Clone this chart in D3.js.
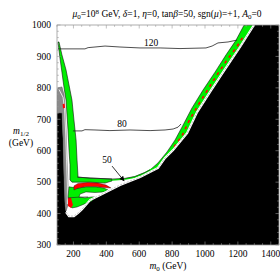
<!DOCTYPE html>
<html>
<head>
<meta charset="utf-8">
<script src="https://cdn.jsdelivr.net/npm/d3@7"></script>
<style>
  body { margin: 0; background: #fff; }
  svg text { font-family: "Liberation Serif", "DejaVu Serif", serif; fill: #000; }
</style>
</head>
<body>
<svg width="280" height="280"></svg>
<script>
// axes
const xDomain = [100, 1450];
const yDomain = [300, 1000];
const xTicks = [200, 400, 600, 800, 1000, 1200, 1400];
const yTicks = [300, 400, 500, 600, 700, 800, 900, 1000];

// regions, [m0, m1/2]
const blackRegion = [[100,300],[100,720],[130,720],[137,634],[143,507],[149,427],[155,405],[173,392],[203,392],[228,402],[252,414],[301,443],[362,459],[483,491],[605,516],[714,545],[757,577],[806,602],[891,656],[952,723],[1031,787],[1110,850],[1213,930],[1298,1000],[1450,1000],[1450,300]];
const boundaryEdge = [[155,405],[173,392],[203,392],[228,402],[252,414],[301,443],[362,459],[483,491],[605,516],[714,545],[757,577],[806,602],[891,656],[952,723],[1031,787],[1110,850],[1213,930],[1298,1000]];
const greenStripEdge = [[1238,1000],[1189,952],[1128,905],[1061,850],[988,793],[921,736],[860,675],[818,634],[769,596],[714,561],[666,539],[605,520]];
const greenBand = [[106,946],[118,895],[130,850],[143,800],[155,761],[161,714],[167,666],[173,602],[179,555],[179,507],[191,500],[301,500],[392,497],[435,504],[435,510],[301,513],[228,516],[222,570],[216,634],[203,698],[191,761],[173,809],[155,857],[130,905],[112,946]];
const greenThin = [[435,507],[514,510],[574,516],[635,529],[678,542]];
const greenBlob = [[173,485],[228,481],[276,485],[337,485],[386,481],[410,475],[386,469],[331,467],[276,469],[240,462],[234,453],[270,450],[313,453],[331,453],[313,440],[264,430],[222,421],[191,418],[173,427],[167,453]];
const redCrescent = [[203,488],[228,496],[289,499],[350,497],[398,491],[429,481],[386,483],[337,486],[276,486],[228,481],[203,475]];
const redLow = [[167,450],[185,450],[197,427],[185,418],[167,424]];
const redTop = [[134,748],[146,750],[149,737],[137,734]];
const redDashes = [[812,612],[860,647],[903,695],[958,745],[1019,796],[1073,841],[1134,889],[1189,927],[1238,968]];
const grayBand = [[106,800],[130,803],[143,777],[149,730],[155,666],[161,570],[167,491],[167,427],[155,408],[149,427],[143,507],[137,634],[130,720],[100,720],[100,787]];
const grayInner = [[112,795],[137,770],[146,730],[152,666],[158,570],[163,491],[163,430]];
const sliverTop = [[222,516],[301,513],[435,510],[514,512],[574,518],[635,531],[666,539]];
const blobLine = [[167,450],[228,452],[289,453]];

// contours of constant value
const contour120 = [[106,924],[179,924],[270,924],[289,928],[331,930],[392,933],[483,930],[605,927],[727,927],[848,925],[1006,927],[1043,933],[1079,943],[1140,946],[1195,952]];
const contour80 = [[197,663],[252,663],[270,667],[331,666],[422,664],[544,666],[666,664],[757,666],[806,669],[836,675],[854,685]];
const contourLabels = [
  {text: "120", m0: 672, m12: 934},
  {text: "80", m0: 495, m12: 675},
  {text: "50", m0: 404, m12: 561}
];
const arrow50 = [[435,551],[508,504]];

const svg = d3.select("svg");
const x = d3.scaleLinear().domain(xDomain).range([57, 279]);
const y = d3.scaleLinear().domain(yDomain).range([245, 25]);
const line = d3.line().x(d => x(d[0])).y(d => y(d[1]));
const area = pts => line(pts) + "Z";

svg.append("defs").append("clipPath").attr("id", "clip")
  .append("rect").attr("x", 57).attr("y", 25).attr("width", 222).attr("height", 220);
svg.select("defs").append("marker")
  .attr("id", "head").attr("viewBox", "0 0 10 10").attr("refX", 9).attr("refY", 5)
  .attr("markerWidth", 7).attr("markerHeight", 5).attr("markerUnits", "userSpaceOnUse")
  .attr("orient", "auto")
  .append("path").attr("d", "M0,0L10,5L0,10Z").attr("fill", "#000");

const g = svg.append("g").attr("clip-path", "url(#clip)");

// green strip along the boundary: its upper edge, then back up the black edge
g.append("path").attr("d", area(greenStripEdge.concat(boundaryEdge.slice(8))))
  .attr("fill", "#00ee00").attr("stroke", "#111").attr("stroke-width", 0.6);

g.append("path").attr("d", area(blackRegion)).attr("fill", "#000");

g.append("path").attr("d", area(grayBand)).attr("fill", "#8a8a8a").attr("stroke", "#555").attr("stroke-width", 0.5);
g.append("path").attr("d", line(grayInner)).attr("fill", "none").attr("stroke", "#fff").attr("stroke-width", 0.8);
g.append("path").attr("d", area(redTop)).attr("fill", "#f00");

g.append("path").attr("d", area(greenBand)).attr("fill", "#00ee00").attr("stroke", "#111").attr("stroke-width", 0.6);
g.append("path").attr("d", line(greenThin)).attr("fill", "none").attr("stroke", "#00ee00").attr("stroke-width", 1.6);
g.append("path").attr("d", line(sliverTop)).attr("fill", "none").attr("stroke", "#222").attr("stroke-width", 0.7);
g.append("path").attr("d", area(greenBlob)).attr("fill", "#00ee00").attr("stroke", "#111").attr("stroke-width", 0.5);
g.append("path").attr("d", area(redCrescent)).attr("fill", "#f00").attr("stroke", "#111").attr("stroke-width", 0.4);
g.append("path").attr("d", area(redLow)).attr("fill", "#f00");
g.append("path").attr("d", line(blobLine)).attr("fill", "none").attr("stroke", "#222").attr("stroke-width", 0.6);

g.append("path").attr("d", line(redDashes)).attr("fill", "none").attr("stroke", "#f00")
  .attr("stroke-width", 1.6).attr("stroke-dasharray", "3,4");

// white wiggly edge of the black region
g.append("path").attr("d", line(boundaryEdge)).attr("fill", "none").attr("stroke", "#fff").attr("stroke-width", 2.2);
g.append("path").attr("d", line(boundaryEdge)).attr("fill", "none").attr("stroke", "#999")
  .attr("stroke-width", 0.6).attr("stroke-dasharray", "2,1.5");

[contour120, contour80].forEach(c => {
  g.append("path").attr("d", line(c)).attr("fill", "none").attr("stroke", "#222").attr("stroke-width", 0.8);
});
g.append("path").attr("d", line(arrow50)).attr("fill", "none").attr("stroke", "#000")
  .attr("stroke-width", 0.8).attr("marker-end", "url(#head)");
g.selectAll(".clab").data(contourLabels).enter().append("text")
  .attr("x", d => x(d.m0)).attr("y", d => y(d.m12))
  .attr("text-anchor", "middle").attr("font-size", 9.5).text(d => d.text);

// frame and ticks
const frame = svg.append("g").attr("stroke", "#999").attr("fill", "none");
frame.append("rect").attr("x", 57).attr("y", 25).attr("width", 222).attr("height", 220).attr("stroke-width", 0.8);
const xMinor = d3.range(100, 1451, 50);
const yMinor = d3.range(300, 1001, 20);
xMinor.forEach(v => {
  const len = xTicks.includes(v) ? 3.5 : 1.8;
  frame.append("line").attr("x1", x(v)).attr("x2", x(v)).attr("y1", 245).attr("y2", 245 - len).attr("stroke-width", 0.6);
  frame.append("line").attr("x1", x(v)).attr("x2", x(v)).attr("y1", 25).attr("y2", 25 + len).attr("stroke-width", 0.6);
});
yMinor.forEach(v => {
  const len = yTicks.includes(v) ? 3.5 : 1.8;
  frame.append("line").attr("x1", 57).attr("x2", 57 + len).attr("y1", y(v)).attr("y2", y(v)).attr("stroke-width", 0.6);
  frame.append("line").attr("x1", 279).attr("x2", 279 - len).attr("y1", y(v)).attr("y2", y(v)).attr("stroke-width", 0.6);
});

svg.selectAll(".xt").data(xTicks).enter().append("text")
  .attr("x", d => x(d)).attr("y", 257).attr("text-anchor", "middle").attr("font-size", 9.5).text(d => d);
svg.selectAll(".yt").data(yTicks).enter().append("text")
  .attr("x", 51).attr("y", d => y(d) + 3.3).attr("text-anchor", "end").attr("font-size", 9.5).text(d => d);

// axis labels
const xl = svg.append("text").attr("x", 168).attr("y", 269).attr("text-anchor", "middle").attr("font-size", 9.5);
xl.append("tspan").attr("font-style", "italic").text("m");
xl.append("tspan").attr("font-size", 7).attr("dy", 2).text("0");
xl.append("tspan").attr("dy", -2).text(" (GeV)");

const yl = svg.append("text").attr("x", 21).attr("y", 134).attr("text-anchor", "middle").attr("font-size", 9.5);
yl.append("tspan").attr("font-style", "italic").text("m");
yl.append("tspan").attr("font-size", 7).attr("dy", 2).text("1/2");
svg.append("text").attr("x", 21).attr("y", 146).attr("text-anchor", "middle").attr("font-size", 9.5).text("(GeV)");

// title
const t = svg.append("text").attr("x", 167).attr("y", 17).attr("text-anchor", "middle").attr("font-size", 9.5);
const parts = [
  ["μ", "i"], ["0", "sub"], ["=10", ""], ["8", "sup"], [" GeV, ", ""], ["δ", "i"], ["=1, ", ""],
  ["η", "i"], ["=0, tan", ""], ["β", "i"], ["=50, sgn(", ""], ["μ", "i"], [")=+1, ", ""],
  ["A", "i"], ["0", "sub"], ["=0", ""]
];
let shift = 0;
parts.forEach(([s, k]) => {
  const sp = t.append("tspan").text(s);
  const target = k === "sub" ? 2 : k === "sup" ? -3.5 : 0;
  sp.attr("dy", target - shift);
  shift = target;
  if (k === "i") sp.attr("font-style", "italic");
  if (k === "sub" || k === "sup") sp.attr("font-size", 7);
});
</script>
</body>
</html>
